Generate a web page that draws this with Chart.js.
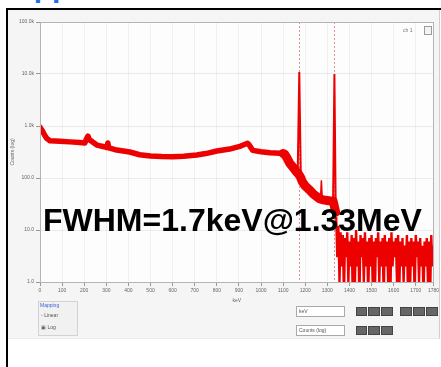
<!DOCTYPE html>
<html><head><meta charset="utf-8">
<script src="https://cdn.jsdelivr.net/npm/chart.js@4/dist/chart.umd.min.js"></script>
<style>
html,body{margin:0;padding:0;background:#fff;width:441px;height:367px;overflow:hidden;font-family:"Liberation Sans",Arial,sans-serif;}
.abs{position:absolute;}
#frame{left:6px;top:8px;width:440px;height:370px;border-left:2px solid #000;border-top:2px solid #000;}
#panel{left:8px;top:10px;width:431px;height:328px;background:#f5f5f5;border-right:1px solid #cfcfcf;border-bottom:1px solid #ececec;}
#title{left:12px;top:-28px;font:bold 30px "Liberation Sans",Arial,sans-serif;color:#1e6ee6;line-height:30px;white-space:nowrap;}
#wrap{left:0;top:0;width:441px;height:367px;}
#fwhm{left:43px;top:204px;font:bold 32px "Liberation Sans",Arial,sans-serif;line-height:32px;color:#000;white-space:nowrap;}
.tiny{font-size:5px;line-height:6px;color:#555;white-space:nowrap;}
#mapbox{left:38px;top:301px;width:38px;height:33px;border:1px solid #d2d2d2;background:#f1f1f1;}
.field{background:#fff;border:1px solid #a9a9a9;box-sizing:border-box;}
.btns{display:flex;gap:1px;}
.btns span{display:block;height:9px;background:#666;border:1px solid #444;box-sizing:border-box;}
</style></head>
<body>
<div id="title" class="abs">Application</div>
<div id="frame" class="abs"></div>
<div id="panel" class="abs"></div>
<div id="wrap" class="abs"><canvas id="c" width="441" height="367"></canvas></div>
<div id="fwhm" class="abs">FWHM=1.7keV@1.33MeV</div>

<div class="abs tiny" style="left:403px;top:27px;color:#777;">ch 1</div>
<div class="abs" style="left:424px;top:26px;width:8px;height:9px;border:1px solid #9a9a9a;background:#f4f4f4;box-sizing:border-box;"></div>

<div id="mapbox" class="abs"></div>
<div class="abs tiny" style="left:40px;top:302px;color:#3a5fd0;">Mapping</div>
<div class="abs tiny" style="left:41px;top:312px;">&#9702; Linear</div>
<div class="abs tiny" style="left:41px;top:324px;">&#9635; Log</div>

<div class="abs field" style="left:296px;top:306px;width:49px;height:11px;"></div>
<div class="abs tiny" style="left:299px;top:308px;">keV</div>
<div class="abs btns" style="left:356px;top:307px;"><span style="width:11px"></span><span style="width:12px"></span><span style="width:12px"></span></div>
<div class="abs btns" style="left:400px;top:307px;"><span style="width:12px"></span><span style="width:12px"></span><span style="width:12px"></span></div>
<div class="abs field" style="left:296px;top:325px;width:49px;height:11px;"></div>
<div class="abs tiny" style="left:299px;top:327px;">Counts (log)</div>
<div class="abs btns" style="left:356px;top:326px;"><span style="width:11px"></span><span style="width:12px"></span><span style="width:12px"></span></div>

<script>
// ---- data ----
const contKeV = [0,10,20,30,45,90,135,180,203,210,217,224,235,257,290,303,307,311,340,406,451,500,550,600,650,709,750,800,858,900,939,945,962,1000,1040,1084,1100,1106,1118,1129,1145,1160,1168,1178,1187,1200,1219,1235,1251,1265,1280,1300,1318,1326,1338];
const contCounts = [950,820,680,580,520,510,495,480,470,560,640,540,505,430,400,385,470,380,350,316,280,265,258,257,262,277,295,330,360,400,465,440,340,320,305,300,295,290,240,195,160,132,122,105,85,70,59,50,44,40,38,37,36,36,22];

const peak1KeV = [1166,1173,1180];
const peak1Counts = [130,10900,100];
const peak2KeV = [1326,1332,1338];
const peak2Counts = [36,10000,22];
const spikeKeV = [1269,1273,1277];
const spikeCounts = [38,90,38];

const tailKeV = [1340,1345,1350,1355,1360,1365,1370,1375,1380,1385,
 1390,1395,1400,1405,1410,1415,1420,1425,1430,1435,
 1440,1445,1450,1455,1460,1465,1470,1475,1480,1485,
 1490,1495,1500,1505,1510,1515,1520,1525,1530,1535,
 1540,1545,1550,1555,1560,1565,1570,1575,1580,1585,
 1590,1595,1600,1605,1610,1615,1620,1625,1630,1635,
 1640,1645,1650,1655,1660,1665,1670,1675,1680,1685,
 1690,1695,1700,1705,1710,1715,1720,1725,1730,1735,
 1740,1745,1750,1755,1760,1765,1770,1775,1780];
const tailCounts = [18,3,12,1,9,2,8,0.5,7,3,
 9,1,6,2,8,0.5,7,1,10,2,
 6,0.5,8,3,7,1,9,2,6,0.5,
 7,2,8,1,6,0.5,7,3,9,1,
 6,2,7,0.5,8,2,6,1,7,0.5,
 9,2,6,3,7,1,8,0.5,6,2,
 7,1,5,2,8,0.5,6,1,7,2,
 6,0.5,8,3,6,1,7,2,5,0.5,
 6,2,7,1,6,0.5,8,2,5];

const cursorKeV = [0,1173,1332];
const xTickValues = [0,100,200,300,400,500,600,700,800,900,1000,1100,1200,1300,1400,1500,1600,1700,1780];
const yTickValues = [1,10,100,1000,10000,100000];
const yTickLabels = ['1.0','10.0','100.0','1.0k','10.0k','100.0k'];

const pts = (xs, ys) => xs.map((x, i) => ({x: x, y: ys[i]}));
const RED = 'rgb(236,0,0)';

Chart.defaults.font.family = '"Liberation Sans", Arial, sans-serif';

const decor = {
  id: 'decor',
  beforeDraw(chart) {
    const {ctx, chartArea: a} = chart;
    ctx.save();
    ctx.fillStyle = '#fdfdfd';
    ctx.fillRect(a.left, a.top, a.right - a.left, a.bottom - a.top);
    ctx.restore();
  },
  beforeDatasetsDraw(chart) {
    const {ctx, chartArea: a, scales: {x}} = chart;
    ctx.save();
    ctx.strokeStyle = 'rgba(225,70,70,0.6)';
    ctx.lineWidth = 1;
    ctx.setLineDash([2, 2]);
    cursorKeV.forEach(v => {
      const px = Math.round(x.getPixelForValue(v)) + 0.5;
      ctx.beginPath(); ctx.moveTo(px, a.top); ctx.lineTo(px, a.bottom); ctx.stroke();
    });
    ctx.restore();
  },
  afterDraw(chart) {
    const {ctx, chartArea: a} = chart;
    ctx.save();
    ctx.strokeStyle = '#b4b4b4';
    ctx.lineWidth = 1;
    ctx.strokeRect(Math.round(a.left) + 0.5, Math.round(a.top) + 0.5, Math.round(a.right - a.left), Math.round(a.bottom - a.top));
    ctx.restore();
  }
};

new Chart(document.getElementById('c'), {
  type: 'line',
  data: {
    datasets: [
      {label: 'Spectrum', data: pts(contKeV, contCounts), borderColor: RED, borderWidth: 5.5,
       pointRadius: 0, tension: 0, borderJoinStyle: 'round', borderCapStyle: 'round',
       segment: {borderWidth: ctx => contKeV[ctx.p0DataIndex] >= 1100 ? 9 : 5.5}},
      {label: 'Peak 1', data: pts(peak1KeV, peak1Counts), borderColor: RED, borderWidth: 2, pointRadius: 0, tension: 0},
      {label: 'Peak 2', data: pts(peak2KeV, peak2Counts), borderColor: RED, borderWidth: 2, pointRadius: 0, tension: 0},
      {label: 'Spike', data: pts(spikeKeV, spikeCounts), borderColor: RED, borderWidth: 1.5, pointRadius: 0, tension: 0},
      {label: 'Tail', data: pts(tailKeV, tailCounts), borderColor: RED, borderWidth: 2.4, pointRadius: 0, tension: 0}
    ]
  },
  options: {
    responsive: false,
    animation: false,
    devicePixelRatio: 1,
    layout: {padding: {left: 0, top: 22, right: 7, bottom: 60}},
    plugins: {legend: {display: false}, tooltip: {enabled: false}},
    scales: {
      x: {
        type: 'linear', min: 0, max: 1780,
        afterBuildTicks: axis => { axis.ticks = xTickValues.map(v => ({value: v})); },
        afterFit: s => { s.height = 25; },
        ticks: {font: {size: 5}, color: '#666', autoSkip: false, maxRotation: 0, padding: 2,
                callback: v => String(v)},
        grid: {color: 'rgba(0,0,0,0.05)', tickLength: 4, tickColor: '#999'},
        border: {color: '#9a9a9a'},
        title: {display: true, text: 'keV', font: {size: 5}, color: '#666', padding: {top: 0, bottom: 3}}
      },
      y: {
        type: 'logarithmic', min: 1, max: 100000,
        afterBuildTicks: axis => { axis.ticks = yTickValues.map(v => ({value: v})); },
        afterFit: s => { s.width = 40; },
        ticks: {font: {size: 5}, color: '#666', padding: 2,
                callback: v => yTickLabels[yTickValues.indexOf(v)]},
        grid: {color: 'rgba(0,0,0,0.07)', tickLength: 4, tickColor: '#999'},
        border: {color: '#9a9a9a'},
        title: {display: true, text: 'Counts (log)', font: {size: 5}, color: '#666', padding: {top: 10, bottom: 0}}
      }
    }
  },
  plugins: [decor]
});
</script>
</body></html>
